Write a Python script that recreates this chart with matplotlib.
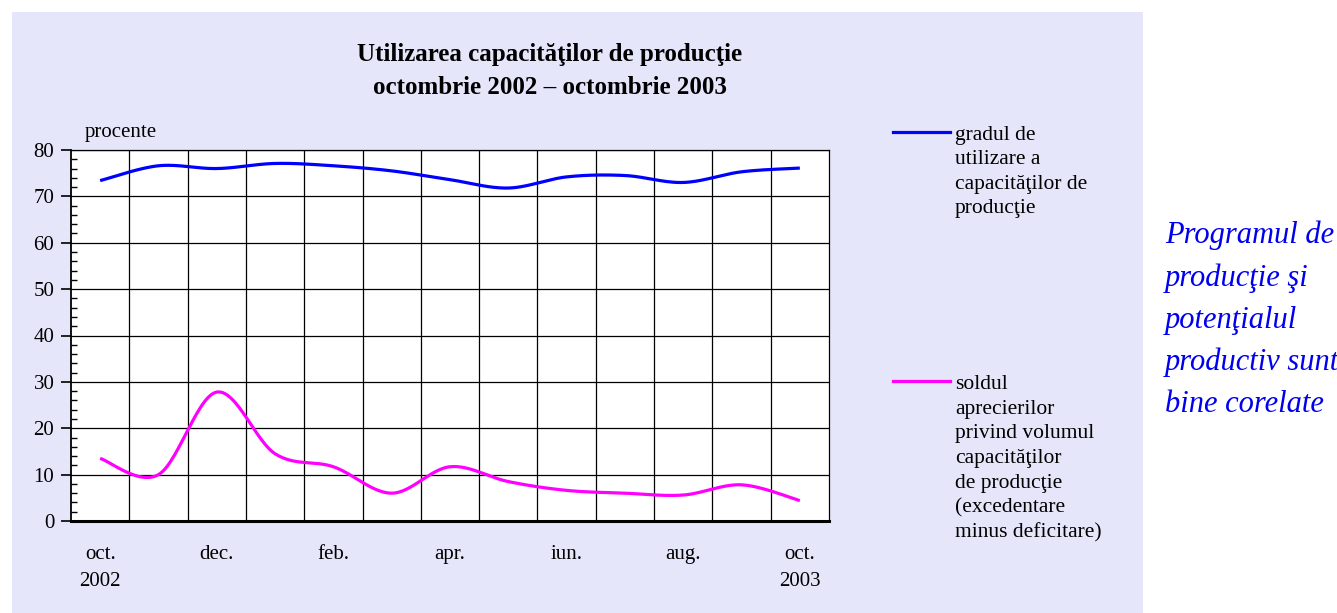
import numpy as np
import matplotlib
matplotlib.use("Agg")
import matplotlib.pyplot as plt
from matplotlib.patches import Rectangle
from matplotlib.ticker import MultipleLocator, FixedLocator

# ---------------- data ----------------
months = ["oct.\n2002", "nov.", "dec.", "ian.", "feb.", "mar.", "apr.", "mai",
          "iun.", "iul.", "aug.", "sep.", "oct.\n2003"]
utilizare = [73.4, 76.6, 76.0, 77.1, 76.6, 75.5, 73.6, 71.8, 74.2, 74.5, 73.0, 75.3, 76.1]
sold = [13.5, 10.0, 27.8, 14.5, 11.7, 6.0, 11.7, 8.5, 6.6, 6.0, 5.6, 7.8, 4.4]
label_util = "gradul de\nutilizare a\ncapacităţilor de\nproducţie"
label_sold = ("soldul\naprecierilor\nprivind volumul\ncapacităţilor\nde producţie\n"
              "(excedentare\nminus deficitare)")
title = "Utilizarea capacităţilor de producţie\noctombrie 2002 – octombrie 2003"
side_note = "Programul de\nproducţie şi\npotenţialul\nproductiv sunt\nbine corelate"

plt.rcParams['font.family'] = ['Liberation Serif', 'DejaVu Serif']

W, H = 1337, 613
fig = plt.figure(figsize=(W / 100, H / 100), dpi=100)
fig.patch.set_facecolor("white")

def fx(px):
    return px / W

def fy(py):
    return 1 - py / H

# lavender background panel
bg = Rectangle((fx(12), 0), fx(1143) - fx(12), fy(12), transform=fig.transFigure,
               facecolor="#e6e6fa", edgecolor="none", zorder=-5)
fig.add_artist(bg)

ax = fig.add_axes([fx(71), fy(521), fx(829) - fx(71), fy(150) - fy(521)])
ax.set_zorder(2)
ax.set_facecolor("white")


def smooth(vals, n=30):
    """Excel-like smoothed line (Catmull-Rom Bezier) through the data points."""
    y = np.asarray(vals, dtype=float)
    x = np.arange(len(y), dtype=float)
    xs, ys = [], []
    for i in range(len(y) - 1):
        i0 = max(i - 1, 0)
        i3 = min(i + 2, len(y) - 1)
        p0 = np.array([x[i], y[i]])
        p3 = np.array([x[i + 1], y[i + 1]])
        p1 = p0 + (np.array([x[i + 1], y[i + 1]]) - np.array([x[i0], y[i0]])) / 6
        p2 = p3 - (np.array([x[i3], y[i3]]) - np.array([x[i], y[i]])) / 6
        t = np.linspace(0, 1, n)[:, None]
        pts = ((1 - t) ** 3) * p0 + 3 * ((1 - t) ** 2) * t * p1 + 3 * (1 - t) * t ** 2 * p2 + t ** 3 * p3
        xs.extend(pts[:, 0])
        ys.extend(pts[:, 1])
    return np.array(xs), np.array(ys)


xu, yu = smooth(utilizare)
xs_, ys_ = smooth(sold)
ax.plot(xu, yu, color="#0000ff", lw=2.3, solid_capstyle="butt", zorder=3)
ax.plot(xs_, ys_, color="#ff00ff", lw=2.3, solid_capstyle="butt", zorder=3)

ax.set_xlim(-0.5, len(months) - 0.5)
ax.set_ylim(0, 80)

# y axis
ax.yaxis.set_major_locator(MultipleLocator(10))
ax.yaxis.set_minor_locator(MultipleLocator(2))
ax.tick_params(axis="y", which="major", direction="out", length=7, width=1.2,
               labelsize=15, pad=5, colors="black")
ax.tick_params(axis="y", which="minor", direction="in", length=4, width=1.0)
ax.grid(axis="y", which="major", color="black", lw=0.9, zorder=1)

# x axis
ax.xaxis.set_major_locator(FixedLocator(list(range(0, len(months), 2))))
ax.set_xticklabels([months[i] for i in range(0, len(months), 2)], linespacing=1.6)
ax.xaxis.set_minor_locator(FixedLocator([i + 0.5 for i in range(len(months) - 1)]))
ax.tick_params(axis="x", which="major", length=0, labelsize=15, pad=17)
ax.tick_params(axis="x", which="minor", length=0)
ax.grid(axis="x", which="minor", color="black", lw=0.9, zorder=1)
ax.set_axisbelow(True)

for s in ["top", "right"]:
    ax.spines[s].set_linewidth(0.9)
ax.spines["left"].set_linewidth(1.3)
ax.spines["bottom"].set_linewidth(2.2)

# texts
fig.text(fx(550), fy(71), title, ha="center", va="center", fontsize=18,
         fontweight="bold", linespacing=1.53)
fig.text(fx(85), fy(133), "procente", ha="left", va="center", fontsize=15)

# legend (manual, in figure pixels)
fig.add_artist(plt.Line2D([fx(893), fx(950)], [fy(132), fy(132)], color="#0000ff", lw=2.3))
fig.text(fx(955), fy(172), label_util, ha="left", va="center", fontsize=15.5, linespacing=1.4)
fig.add_artist(plt.Line2D([fx(893), fx(950)], [fy(381), fy(381)], color="#ff00ff", lw=2.3))
fig.text(fx(955), fy(459), label_sold, ha="left", va="center", fontsize=15.5, linespacing=1.4)

# side note
fig.text(fx(1165), fy(320), side_note, ha="left", va="center", fontsize=22,
         style="italic", color="#0000ee", linespacing=1.58)

fig.savefig("out.png", dpi=100, facecolor=fig.get_facecolor())
